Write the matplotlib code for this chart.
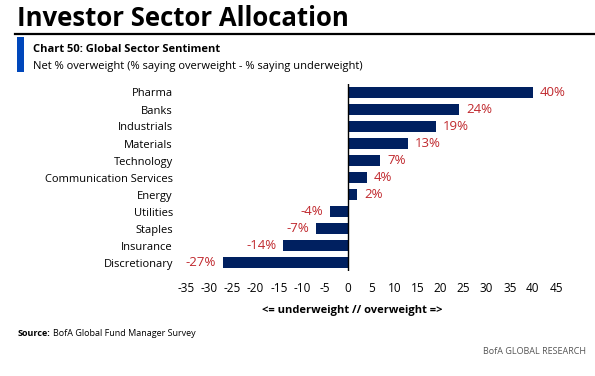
import numpy as np
import matplotlib.pyplot as plt
from matplotlib.patches import Rectangle
from matplotlib.lines import Line2D

sectors = ['Pharma', 'Banks', 'Industrials', 'Materials', 'Technology',
           'Communication Services', 'Energy', 'Utilities', 'Staples',
           'Insurance', 'Discretionary']
net_ow = [40, 24, 19, 13, 7, 4, 2, -4, -7, -14, -27]
xticks = list(range(-35, 50, 5))

plt.rcParams['font.family'] = ['Open Sans', 'DejaVu Sans']
navy = '#002060'
red = '#c0282d'

fig = plt.figure(figsize=(5.95, 3.76), dpi=100)
W, H = 595, 376

def fx(px):
    return px / W

def fy(py):
    return 1 - py / H

# header
fig.text(fx(17), fy(18), 'Investor Sector Allocation', fontsize=18.5, fontweight='bold',
         color='black', va='center', ha='left')
fig.add_artist(Line2D([fx(15), 1.0], [fy(34), fy(34)], color='black', lw=1.6))
fig.add_artist(Rectangle((fx(17), fy(72)), fx(7), 35 / H, color='#0047bb', lw=0))
fig.text(fx(33), fy(49), 'Chart 50: Global Sector Sentiment', fontsize=8, fontweight='bold',
         va='center', ha='left')
fig.text(fx(33), fy(66), 'Net % overweight (% saying overweight - % saying underweight)',
         fontsize=8, va='center', ha='left')

ax = fig.add_axes([fx(184), fy(271), fx(556 - 184), (271 - 84) / H])
y = np.arange(len(sectors))
ax.barh(y, net_ow, height=0.65, color=navy)
ax.set_ylim(len(sectors) - 0.5, -0.5)
ax.set_xlim(-35.5, 45)
ax.axvline(0, color='black', lw=1)

for yi, v in zip(y, net_ow):
    if v >= 0:
        ax.annotate(f'{v}%', (v, yi), xytext=(5, 0), textcoords='offset points',
                    ha='left', va='center', color=red, fontsize=9.5)
    else:
        ax.annotate(f'{v}%', (v, yi), xytext=(-5, 0), textcoords='offset points',
                    ha='right', va='center', color=red, fontsize=9.5)

ax.set_yticks(y)
ax.set_yticklabels(sectors, fontsize=8)
ax.set_xticks(xticks)
ax.set_xticklabels([str(t) for t in xticks], fontsize=8.5)
ax.tick_params(axis='both', length=0)
ax.tick_params(axis='y', pad=8)
ax.tick_params(axis='x', pad=8)
for s in ax.spines.values():
    s.set_visible(False)

fig.text(fx(352), fy(311), '<= underweight // overweight =>', fontsize=8, fontweight='bold',
         ha='center', va='center')
fig.text(fx(18), fy(333), 'Source:', fontsize=6.5, fontweight='bold', ha='left', va='center')
fig.text(fx(53), fy(333), 'BofA Global Fund Manager Survey', fontsize=6.5, ha='left', va='center')
fig.text(fx(586), fy(351), 'BofA GLOBAL RESEARCH', fontsize=6.5, color='#555555',
         ha='right', va='center')

fig.savefig('out.png', dpi=100)
